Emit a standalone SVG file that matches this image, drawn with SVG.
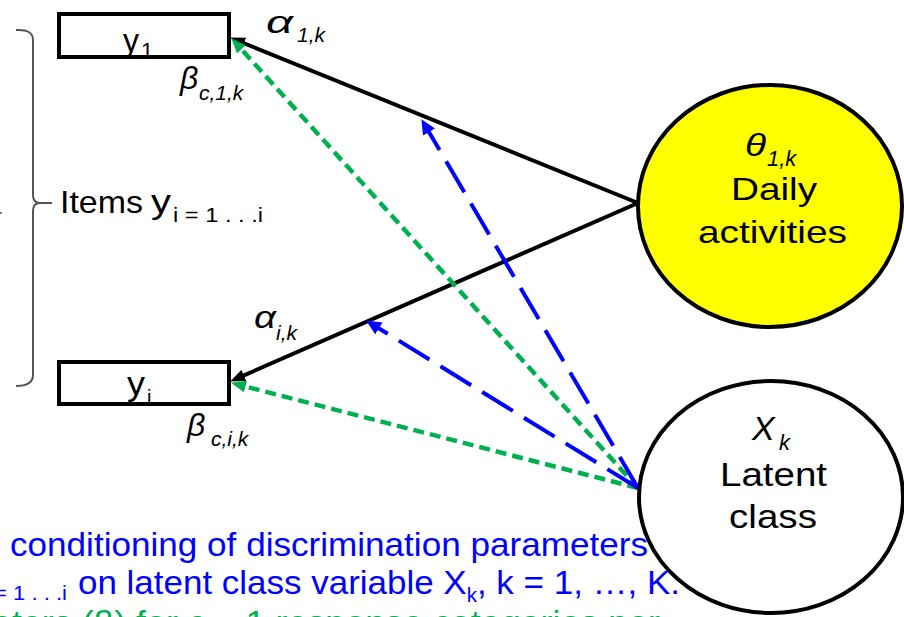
<svg xmlns="http://www.w3.org/2000/svg" width="904" height="617" viewBox="0 0 904 617">
<style>
text{font-family:"Liberation Sans",Arial,sans-serif;fill:#000}
.it{font-style:italic}
.box{fill:#fff;stroke:#000;stroke-width:4}
.solid{fill:none;stroke:#000;stroke-width:4}
.green{fill:none;stroke:#00B050;stroke-width:4.5;stroke-dasharray:11 6}
.blue{fill:none;stroke:#0000FF;stroke-width:4;stroke-dasharray:36 13}
.btxt{fill:#0000FF;font-size:34px}
.gtxt{fill:#00B050;font-size:34px}
.brace{fill:none;stroke:#555;stroke-width:2}
</style>
<defs>
<marker id="ab" markerUnits="userSpaceOnUse" markerWidth="16" markerHeight="12" refX="6" refY="6" orient="auto" viewBox="0 0 16 12">
<path d="M0,0 L15,6 L0,12 z" fill="#000"/>
</marker>
<marker id="ag" markerUnits="userSpaceOnUse" markerWidth="16" markerHeight="12" refX="6" refY="6" orient="auto" viewBox="0 0 16 12">
<path d="M0,0 L15,6 L0,12 z" fill="#00B050"/>
</marker>
<marker id="abl" markerUnits="userSpaceOnUse" markerWidth="16" markerHeight="14" refX="6" refY="7" orient="auto" viewBox="0 0 16 14">
<path d="M0,0 L15,7 L0,14 z" fill="#0000FF"/>
</marker>
</defs>

<g id="brace">
<path class="brace" d="M16,30 Q33,29 33,40 L33,195 Q33,203 40,203 L52,203 M40,203 Q33,203 33,211 L33,375 Q33,386 16,386"/>
<line x1="0" y1="213" x2="2" y2="213" stroke="#777" stroke-width="2"/>
<text x="60" y="213" font-size="32" textLength="83" lengthAdjust="spacingAndGlyphs">Items</text>
<text x="151" y="213" font-size="34" textLength="20" lengthAdjust="spacingAndGlyphs">y</text>
<text x="173" y="222" font-size="20" textLength="90" lengthAdjust="spacingAndGlyphs">i = 1 . . .i</text>
</g>

<g id="connectors">
<line class="solid" x1="638" y1="203" x2="238.4" y2="41.0" marker-end="url(#ab)"/>
<line class="solid" x1="638" y1="203" x2="238.3" y2="377.8" marker-end="url(#ab)"/>
<line class="green" x1="638" y1="488" x2="237.4" y2="44.9" marker-end="url(#ag)"/>
<line class="green" x1="638" y1="488" x2="239.7" y2="385.0" marker-end="url(#ag)"/>
<line class="blue" x1="638" y1="488" x2="426.0" y2="126.9" marker-end="url(#abl)"/>
<line class="blue" x1="638" y1="488" x2="373.8" y2="325.2" marker-end="url(#abl)"/>
</g>

<g id="labels">
<text class="it" x="266" y="33" font-size="31" textLength="27" lengthAdjust="spacingAndGlyphs">α</text>
<text class="it" x="297" y="42" font-size="21">1,k</text>
<text class="it" x="180" y="89" font-size="32">β</text>
<text class="it" x="199" y="100" font-size="21">c,1,k</text>
<text class="it" x="254" y="328" font-size="31" textLength="22" lengthAdjust="spacingAndGlyphs">α</text>
<text class="it" x="276" y="340" font-size="21">i,k</text>
<text class="it" x="187" y="436" font-size="32">β</text>
<text class="it" x="211" y="446" font-size="21">c,i,k</text>
</g>

<g id="y1">
<rect class="box" x="59" y="14" width="170" height="43"/>
<text x="123" y="52" font-size="34" textLength="16" lengthAdjust="spacingAndGlyphs">y</text>
<text x="141" y="58" font-size="22">1</text>
<line x1="57" y1="57" x2="231" y2="57" stroke="#000" stroke-width="4"/>
</g>

<g id="yi">
<rect class="box" x="59" y="362" width="170" height="42"/>
<text x="127" y="395" font-size="34" textLength="18" lengthAdjust="spacingAndGlyphs">y</text>
<text x="147" y="404" font-size="20">i</text>
<line x1="57" y1="404" x2="231" y2="404" stroke="#000" stroke-width="4"/>
</g>

<g id="theta">
<ellipse cx="770" cy="206" rx="132" ry="121" fill="#FFFF00" stroke="#000" stroke-width="4"/>
<text class="it" x="745" y="156" font-size="32" textLength="21" lengthAdjust="spacingAndGlyphs">θ</text>
<text class="it" x="767" y="166" font-size="22">1,k</text>
<text x="731" y="200" font-size="32" textLength="86" lengthAdjust="spacingAndGlyphs">Daily</text>
<text x="698" y="243" font-size="32" textLength="149" lengthAdjust="spacingAndGlyphs">activities</text>
</g>

<g id="latent">
<ellipse cx="771" cy="497" rx="132" ry="116" fill="#fff" stroke="#000" stroke-width="4"/>
<text class="it" x="752" y="440" font-size="34">X</text>
<text class="it" x="779" y="450" font-size="22">k</text>
<text x="720" y="486" font-size="34" textLength="107" lengthAdjust="spacingAndGlyphs">Latent</text>
<text x="729" y="528" font-size="34" textLength="88" lengthAdjust="spacingAndGlyphs">class</text>
</g>

<g id="caption">
<text class="btxt" x="10" y="556" textLength="638" lengthAdjust="spacingAndGlyphs">conditioning of discrimination parameters</text>
<text x="-6" y="600" font-size="20" style="fill:#0000FF" textLength="73" lengthAdjust="spacingAndGlyphs">= 1 . . .i</text>
<text class="btxt" x="78" y="594" textLength="602" lengthAdjust="spacingAndGlyphs">on latent class variable X<tspan font-size="20" dy="8">k</tspan><tspan dy="-8">, k = 1, …, K.</tspan></text>
<text class="gtxt" x="-8" y="634" textLength="668" lengthAdjust="spacingAndGlyphs">eters (β) for c – 1 response categories per</text>
</g>
</svg>
